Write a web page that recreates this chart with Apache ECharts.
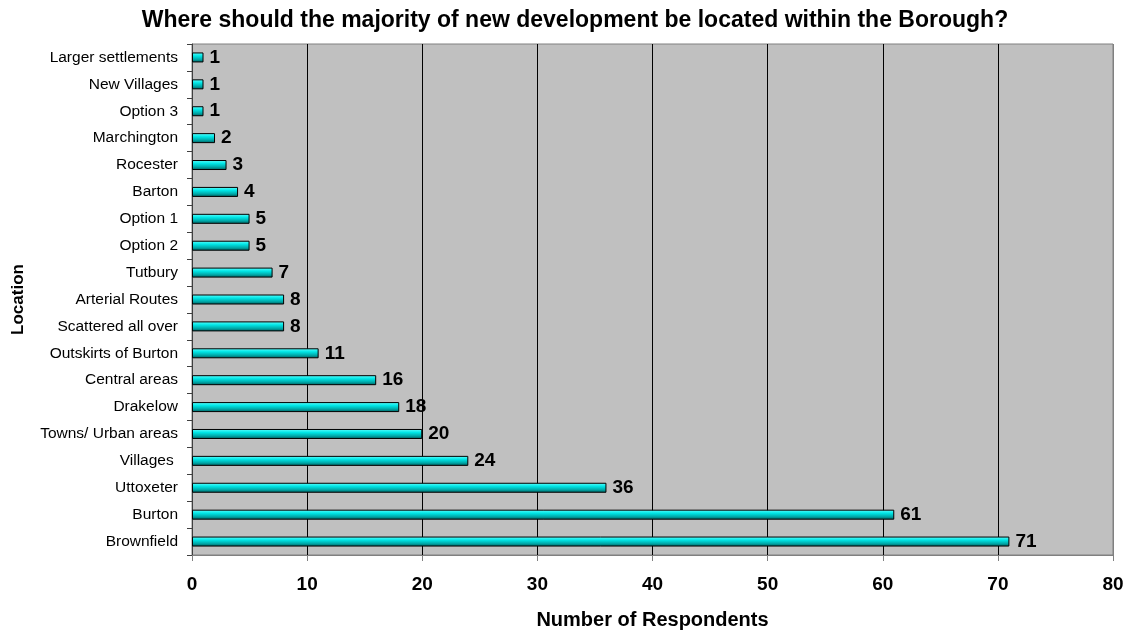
<!DOCTYPE html>
<html><head><meta charset="utf-8">
<script src="https://cdn.jsdelivr.net/npm/echarts@6/dist/echarts.min.js"></script>
<style>html,body{margin:0;padding:0;background:#fff}#c{width:1130px;height:632px}</style>
</head><body><div id="c"></div>
<script>
const categories = ["Larger settlements","New Villages","Option 3","Marchington","Rocester","Barton","Option 1","Option 2","Tutbury","Arterial Routes","Scattered all over","Outskirts of Burton","Central areas","Drakelow","Towns/ Urban areas","Villages ","Uttoxeter","Burton","Brownfield"];
const values = [1,1,1,2,3,4,5,5,7,8,8,11,16,18,20,24,36,61,71];
const xTicks = [0,10,20,30,40,50,60,70,80];

const F = 'Liberation Sans, Arial, sans-serif';
const chart = echarts.init(document.getElementById('c'));
chart.setOption({
  animation: false,
  backgroundColor: '#fff',
  title: {
    text: 'Where should the majority of new development be located within the Borough?',
    left: 570, top: 4, textAlign: 'center',
    textStyle: {fontFamily: F, fontSize: 23, fontWeight: 'bold', color: '#000'}
  },
  grid: {left: 192, right: 17, top: 44, bottom: 77, show: true, backgroundColor: '#C0C0C0', borderColor: '#808080', borderWidth: 1, outerBoundsMode: 'none', containLabel: false},
  xAxis: {
    type: 'value', min: xTicks[0], max: xTicks[xTicks.length-1], interval: 10,
    name: 'Number of Respondents', nameLocation: 'middle', nameGap: 55,
    nameTextStyle: {fontFamily: F, fontSize: 20, fontWeight: 'bold', color: '#000'},
    axisLine: {show: true, lineStyle: {color: '#808080'}},
    axisTick: {show: true, length: 6, lineStyle: {color: '#808080'}},
    axisLabel: {margin: 20, fontFamily: F, fontSize: 19, fontWeight: 'bold', color: '#000'},
    splitLine: {show: true, lineStyle: {color: ['#808080','#000','#000','#000','#000','#000','#000','#000','#808080'], width: 1}}
  },
  yAxis: {
    type: 'category', data: categories, inverse: true,
    name: 'Location', nameLocation: 'middle', nameGap: 165, nameRotate: 90,
    nameTextStyle: {fontFamily: F, fontSize: 17, fontWeight: 'bold', color: '#000'},
    axisLine: {show: true, lineStyle: {color: '#404040'}},
    axisTick: {show: true, length: 5, alignWithLabel: false, lineStyle: {color: '#404040'}},
    axisLabel: {margin: 14, fontFamily: F, fontSize: 15.5, color: '#000'}
  },
  series: [{
    type: 'bar', data: values, barWidth: 10,
    itemStyle: {
      color: new echarts.graphic.LinearGradient(0,0,0,1,[
        {offset:0, color:'#66ffff'},{offset:0.35, color:'#00e6e6'},{offset:0.7, color:'#00a8a8'},{offset:1, color:'#005a5a'}]),
      borderColor: '#000', borderWidth: 1
    },
    label: {show: true, position: 'right', distance: 6, fontFamily: F, fontSize: 19, fontWeight: 'bold', color: '#000'}
  }]
});
</script></body></html>
